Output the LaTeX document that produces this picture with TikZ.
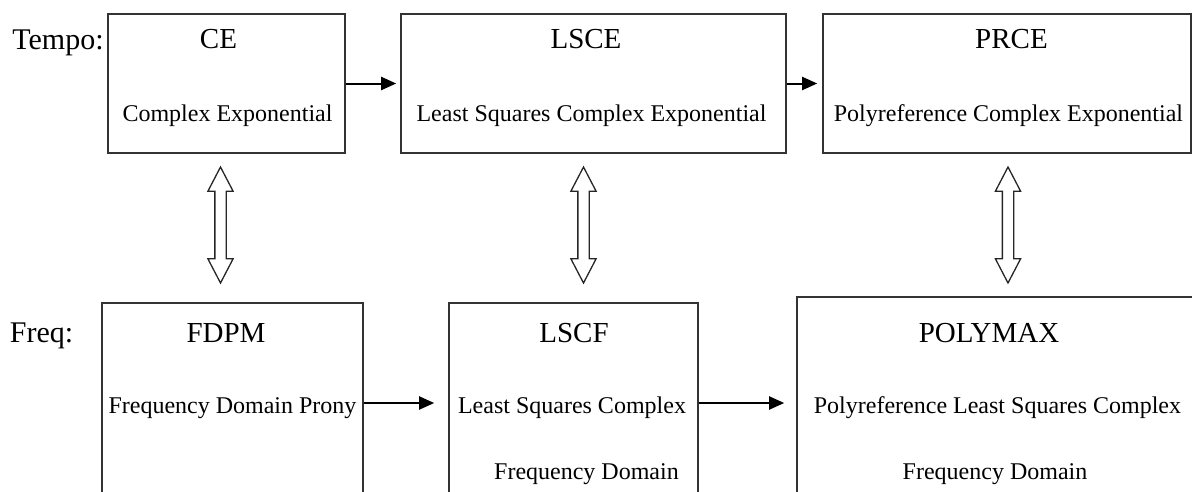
\documentclass[tikz,border=0pt]{standalone}
\usepackage{fontspec}
\setmainfont{Liberation Serif}
\usetikzlibrary{arrows.meta,shapes.arrows}

\begin{document}
\begin{tikzpicture}[x=1pt,y=-1pt,
    box/.style={draw=black!80,line width=1.6pt,inner sep=0pt},
    txt/.style={anchor=base,inner sep=0pt,font=\fontsize{24}{28}\selectfont},
    ttl/.style={anchor=base,inner sep=0pt,font=\fontsize{29}{33}\selectfont},
    sidelbl/.style={anchor=base,inner sep=0pt,font=\fontsize{30}{34}\selectfont},
    link/.style={draw,line width=2pt,-{Triangle[length=15pt,width=13pt]}},
    swap/.style={double arrow,draw=black!85,line width=1.3pt,rotate=90,inner sep=5pt,
      minimum height=116pt,double arrow head extend=7pt,double arrow tip angle=55}]
  %\draw[help lines] (0,0) grid[step=50] (1192,491);
  \useasboundingbox (0,0) rectangle (1192,491);
  \clip (0,0) rectangle (1192,491);

  \draw (58,49) node[sidelbl](tempo) {Tempo:};
  \draw (41.5,342) node[sidelbl](freq) {Freq:};

  % time domain
  \draw (226.5,83.5) node[box,minimum width=237pt,minimum height=139pt](CE) {};
  \draw (593.5,83.5) node[box,minimum width=385pt,minimum height=139pt](LSCE) {};
  \draw (1007,83.5) node[box,minimum width=368pt,minimum height=139pt](PRCE) {};

  \draw (218.5,48) node[ttl](CEt) {CE};
  \draw (227.5,121) node[txt](CEd) {Complex Exponential};
  \draw (586,48) node[ttl](LSCEt) {LSCE};
  \draw (591.5,121) node[txt](LSCEd) {Least Squares Complex Exponential};
  \draw (1011.5,48) node[ttl](PRCEt) {PRCE};
  \draw (1008.5,121) node[txt](PRCEd) {Polyreference Complex Exponential};

  % frequency domain
  \draw (232.5,403) node[box,minimum width=261pt,minimum height=200pt](FDPM) {};
  \draw (573.5,403) node[box,minimum width=249pt,minimum height=200pt](LSCF) {};
  \draw (998.5,403) node[box,minimum width=403pt,minimum height=212pt](PMAX) {};

  \draw (226,342) node[ttl](FDPMt) {FDPM};
  \draw (232.5,413) node[txt](FDPMd) {Frequency Domain Prony};
  \draw (574,342) node[ttl](LSCFt) {LSCF};
  \draw (572,413) node[txt](LSCFd) {Least Squares Complex};
  \draw (586.5,479) node[txt](LSCFe) {Frequency Domain};
  \draw (989,342) node[ttl](PMAXt) {POLYMAX};
  \draw (997.5,413) node[txt](PMAXd) {Polyreference Least Squares Complex};
  \draw (995,479) node[txt](PMAXe) {Frequency Domain};

  \path[link,shorten >=4pt] (CE) -- (LSCE);
  \path[link,shorten >=5pt] (LSCE) -- (PRCE);
  \path[link,shorten >=14pt] (FDPM) -- (LSCF);
  \path[link,shorten >=12pt] (LSCF) -- (PMAX);

  \draw (220.5,225) node[swap](CEswap) {};
  \draw (583.5,225) node[swap](LSCEswap) {};
  \draw (1008,225) node[swap](PRCEswap) {};

\end{tikzpicture}
\end{document}
